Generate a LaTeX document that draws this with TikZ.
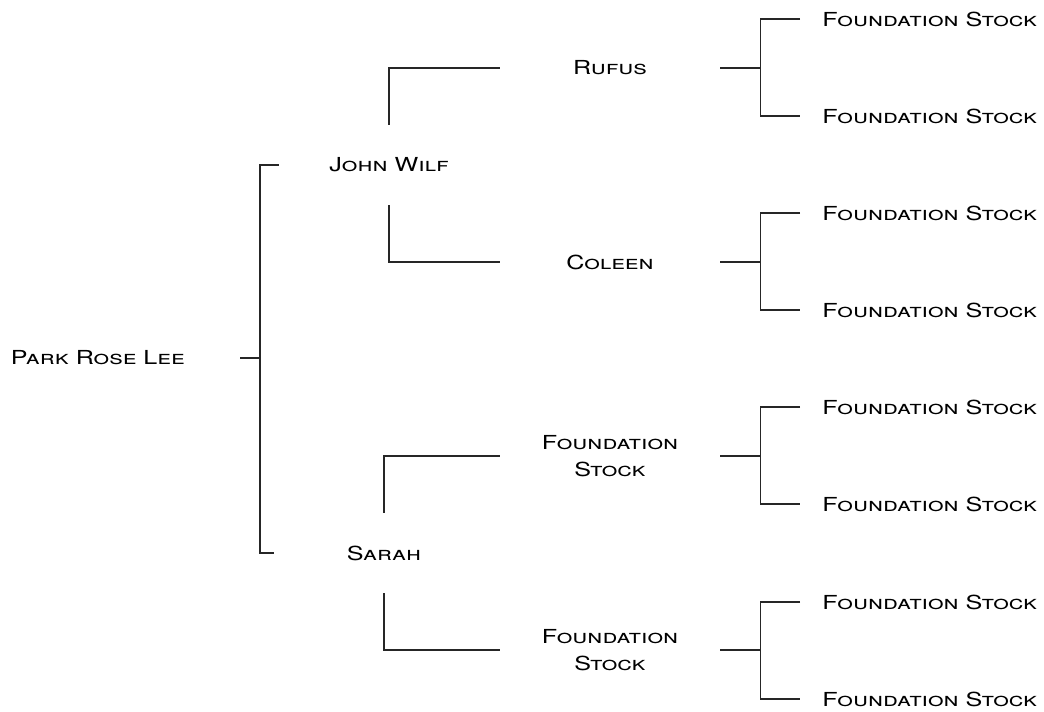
\documentclass[tikz,border=0pt]{standalone}
\usepackage{fontspec}
\newfontfamily\pedfont[Letters=SmallCaps,FakeStretch=1.3]{TeX Gyre Heros}
\usetikzlibrary{positioning}
\tikzset{
	horse/.style={
		rectangle,
		font=\pedfont\fontsize{11}{15.3}\selectfont,
		align=center,
		inner sep=0pt
	},
	parent/.style={
		horse,
		minimum width=4.4cm,
		minimum height=1.6cm
	},
	grandparent/.style={
		horse,
		minimum width=4.4cm
	},
	founder/.style={
		horse,
		anchor=west,
		inner xsep=0.44cm
	},
	pedline/.style={
		draw=black!85,
		line width=0.8pt
	}
}
\begin{document}
\begin{tikzpicture}
	\useasboundingbox (0,0) rectangle (20.88,-14.22);
	% foal
	\node [horse,anchor=east,inner xsep=1.1cm] (prl) at (4.8,-7.16) {Park Rose Lee};
	\coordinate [right=0.4cm of prl] (f0);
	% parents
	\node [parent] (jw) at (7.78,-3.3) {John Wilf};
	\node [parent] (sarah) at (7.68,-11.06) {Sarah};
	% grandparents
	\node [grandparent] (rufus) at (12.2,-1.36) {Rufus};
	\node [grandparent] (coleen) at (12.2,-5.24) {Coleen};
	\node [grandparent] (fsa) at (12.2,-9.12) {Foundation\\Stock};
	\node [grandparent] (fsb) at (12.2,-13.0) {Foundation\\Stock};
	\coordinate [right=0.8cm of rufus] (f1);
	\coordinate [right=0.8cm of coleen] (f2);
	\coordinate [right=0.8cm of fsa] (f3);
	\coordinate [right=0.8cm of fsb] (f4);
	% great grandparents
	\node [founder] (rufus1) at (16,-0.38) {Foundation Stock};
	\node [founder] (rufus2) at (16,-2.32) {Foundation Stock};
	\node [founder] (coleen1) at (16,-4.26) {Foundation Stock};
	\node [founder] (coleen2) at (16,-6.2) {Foundation Stock};
	\node [founder] (fsa1) at (16,-8.14) {Foundation Stock};
	\node [founder] (fsa2) at (16,-10.08) {Foundation Stock};
	\node [founder] (fsb1) at (16,-12.04) {Foundation Stock};
	\node [founder] (fsb2) at (16,-13.98) {Foundation Stock};
	% brackets
	\draw [pedline] (prl.east) -- (f0);
	\draw [pedline] (jw.west) -| (f0) |- (sarah.west);
	\draw [pedline] (jw.north) |- (rufus.west);
	\draw [pedline] (jw.south) |- (coleen.west);
	\draw [pedline] (sarah.north) |- (fsa.west);
	\draw [pedline] (sarah.south) |- (fsb.west);
	\draw [pedline] (rufus.east) -- (f1);
	\draw [pedline] (rufus1.west) -| (f1) |- (rufus2.west);
	\draw [pedline] (coleen.east) -- (f2);
	\draw [pedline] (coleen1.west) -| (f2) |- (coleen2.west);
	\draw [pedline] (fsa.east) -- (f3);
	\draw [pedline] (fsa1.west) -| (f3) |- (fsa2.west);
	\draw [pedline] (fsb.east) -- (f4);
	\draw [pedline] (fsb1.west) -| (f4) |- (fsb2.west);
\end{tikzpicture}
\end{document}
